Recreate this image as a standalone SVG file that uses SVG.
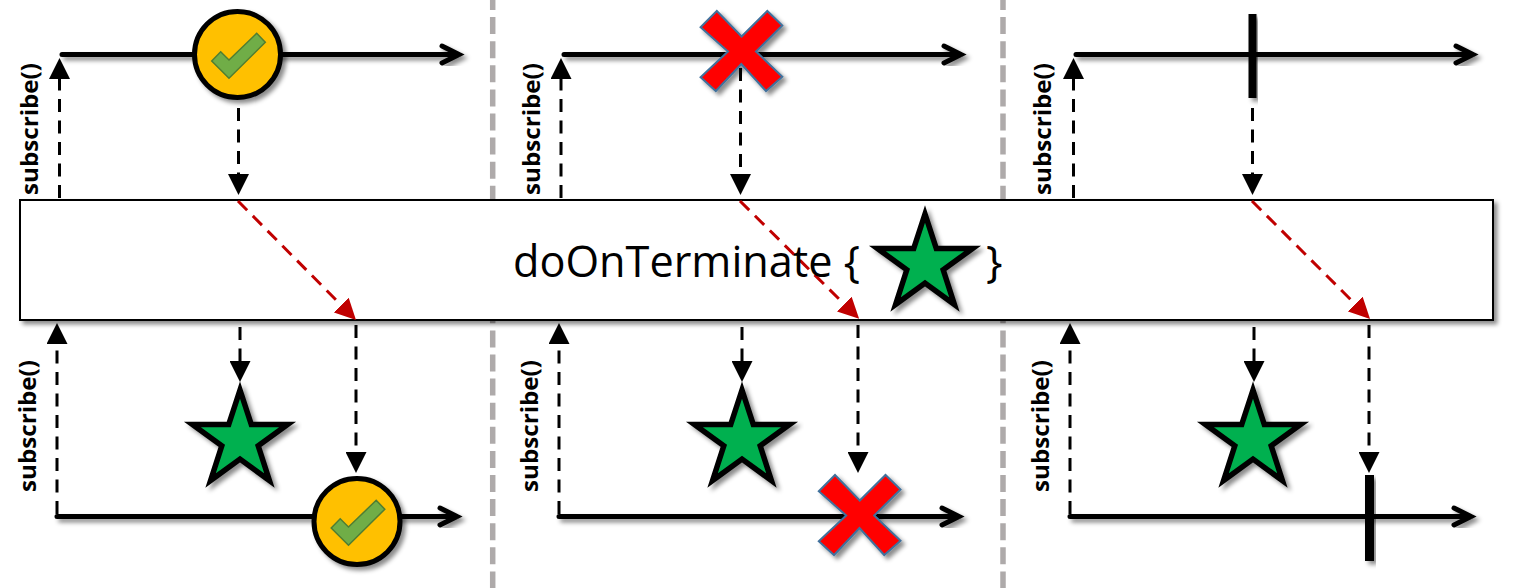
<svg xmlns="http://www.w3.org/2000/svg" xmlns:xlink="http://www.w3.org/1999/xlink" width="1514" height="588" viewBox="0 0 1514 588">
<style>
.divider{stroke:#AEAAAA;stroke-width:5.5;stroke-dasharray:17 7.1;fill:none}
.timeline{stroke:#000;stroke-width:5;fill:none;stroke-linecap:round;filter:url(#shadow)}
.dash{stroke:#000;stroke-width:3;stroke-dasharray:13 8.500;fill:none;marker-end:url(#arrow)}
.red{stroke:#C00000;stroke-width:3;stroke-dasharray:13 8;fill:none;marker-end:url(#arrowRed)}
.box{fill:#fff;stroke:#000;stroke-width:2;filter:url(#shadow)}
.star{fill:#00B050;stroke:#000;stroke-width:5.500;stroke-miterlimit:10;filter:url(#shadow)}
.ring{fill:#FFC000;stroke:#000;stroke-width:5;filter:url(#shadow)}
.check{fill:#70AD47;stroke:#507E32;stroke-width:1.5}
.cross{fill:#FF0000;stroke:#41719C;stroke-width:2;filter:url(#shadow)}
.bar{fill:#000;filter:url(#shadow)}
.sub{font-family:"Open Sans","Liberation Sans",sans-serif;font-weight:700;font-size:23px;fill:#000}
.main{font-family:"Open Sans","Liberation Sans",sans-serif;font-size:44px;fill:#000}
</style>
<defs>
<filter id="shadow" x="-15%" y="-15%" width="130%" height="130%" filterUnits="objectBoundingBox">
<feDropShadow dx="3.5" dy="3.5" stdDeviation="2.2" flood-color="#000" flood-opacity="0.45"/>
</filter>
<marker id="arrow" markerUnits="userSpaceOnUse" markerWidth="21" markerHeight="21" refX="0" refY="10.5" orient="auto" viewBox="0 0 21 21"><path d="M0 0L21 10.5L0 21Z" fill="#000"/></marker>
<marker id="arrowRed" markerUnits="userSpaceOnUse" markerWidth="21" markerHeight="21" refX="0" refY="10.5" orient="auto" viewBox="0 0 21 21"><path d="M0 0L21 10.5L0 21Z" fill="#C00000"/></marker>
<polygon id="starShape" class="star" points="0,-50 11.3,-15.500 47.600,-15.500 18.200,5.900 29.400,40.500 0,19.100 -29.400,40.500 -18.200,5.900 -47.600,-15.500 -11.300,-15.500"/>
<polygon id="crossShape" class="cross" points="-40.7,-23.8 -24.5,-40 0.3,-14.5 26,-40 41,-25.5 14.7,0.5 41,25.7 24.7,40 0,13 -25.5,40 -40.7,26.3 -13.3,0.5"/>
<g id="okShape">
<circle class="ring" r="43"/>
<polygon class="check" points="-25.8,6.5 -16.8,-2.8 -8.5,5.5 19.2,-21.2 27.8,-12.2 -8.5,23.8"/>
</g>
</defs>
<rect width="1514" height="588" fill="#fff"/>
<g id="dividers">
<path class="divider" d="M492.7 -7V588"/>
<path class="divider" d="M1003 -7V588"/>
</g>
<g id="operator-box"><rect class="box" x="20" y="200" width="1473" height="120"/></g>
<g id="connectors">
<path class="timeline" d="M62 54.5H459M442 46L459 54.5L442 63"/>
<path class="timeline" d="M564 54.5H961M944 46L961 54.5L944 63"/>
<path class="timeline" d="M1076 54.5H1473M1456 46L1473 54.5L1456 63"/>
<path class="timeline" d="M57 516.5H457M440 508L457 516.5L440 525"/>
<path class="timeline" d="M559 516.5H959M942 508L959 516.5L942 525"/>
<path class="timeline" d="M1070 516.5H1471M1454 508L1471 516.5L1454 525"/>

<path class="dash" d="M59.5 198V79"/>
<path class="dash" d="M561 198V79"/>
<path class="dash" d="M1073.500 198V79"/>
<path class="dash" d="M238.500 108V174"/>
<path class="dash" d="M740.500 68V174"/>
<path class="dash" d="M1252.500 108V174"/>

<path class="red" d="M238 201L341.200 305.100"/>
<path class="red" d="M740 201L844.200 304.100"/>
<path class="red" d="M1252 201L1355.200 304.100"/>

<path class="dash" d="M57 514V344"/>
<path class="dash" d="M559 514V344"/>
<path class="dash" d="M1070 514V344"/>
<path class="dash" d="M240 327V361"/>
<path class="dash" d="M742 327V361"/>
<path class="dash" d="M1254 327V361"/>
<path class="dash" d="M356 325V452"/>
<path class="dash" d="M858 325V452"/>
<path class="dash" d="M1369 325V452"/>
</g>
<g id="complete-source"><use xlink:href="#okShape" href="#okShape" x="237.500" y="54.500"/></g>
<g id="error-source"><use xlink:href="#crossShape" href="#crossShape" x="741.300" y="51"/></g>
<g id="cancel-source"><rect class="bar" x="1248.500" y="14" width="8" height="84"/></g>
<g id="complete-result"><use xlink:href="#okShape" href="#okShape" x="357" y="521.500"/></g>
<g id="error-result"><use xlink:href="#crossShape" href="#crossShape" x="859.500" y="515"/></g>
<g id="cancel-result"><rect class="bar" x="1365" y="475" width="9" height="86"/></g>
<g id="star-1"><use xlink:href="#starShape" href="#starShape" x="240" y="440"/></g>
<g id="star-2"><use xlink:href="#starShape" href="#starShape" x="742" y="440"/></g>
<g id="star-3"><use xlink:href="#starShape" href="#starShape" x="1253" y="440"/></g>
<g id="operator-star"><use xlink:href="#starShape" href="#starShape" x="925" y="264"/></g>
<g id="labels">
<text class="main" x="513" y="277" textLength="347" lengthAdjust="spacingAndGlyphs">doOnTerminate {</text>
<text class="main" x="986" y="277">}</text>
<text class="sub" transform="translate(38 195) rotate(-90)" textLength="132" lengthAdjust="spacingAndGlyphs">subscribe()</text>
<text class="sub" transform="translate(540 195) rotate(-90)" textLength="132" lengthAdjust="spacingAndGlyphs">subscribe()</text>
<text class="sub" transform="translate(1051 195) rotate(-90)" textLength="132" lengthAdjust="spacingAndGlyphs">subscribe()</text>
<text class="sub" transform="translate(36 492) rotate(-90)" textLength="132" lengthAdjust="spacingAndGlyphs">subscribe()</text>
<text class="sub" transform="translate(538 492) rotate(-90)" textLength="132" lengthAdjust="spacingAndGlyphs">subscribe()</text>
<text class="sub" transform="translate(1049 492) rotate(-90)" textLength="132" lengthAdjust="spacingAndGlyphs">subscribe()</text>
</g>
</svg>
